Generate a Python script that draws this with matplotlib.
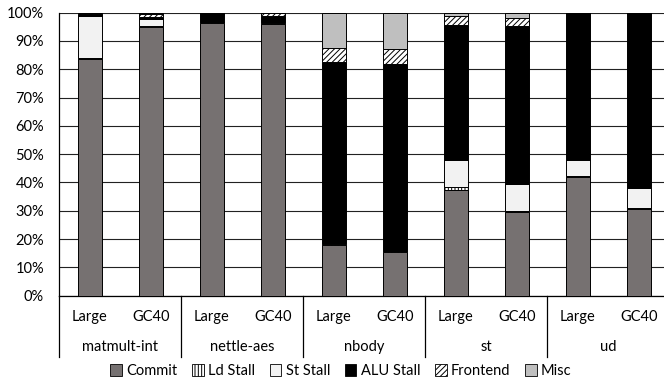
import numpy as np
import matplotlib.pyplot as plt
from matplotlib.patches import Patch
from matplotlib.transforms import blended_transform_factory

plt.rcParams['font.family'] = ['Lato', 'DejaVu Sans']
plt.rcParams['hatch.linewidth'] = 0.7

# --- data (percent of cycles) ---
groups = ['matmult-int', 'nettle-aes', 'nbody', 'st', 'ud']
configs = ['Large', 'GC40']

commit    = [83.8, 95.0, 96.5, 96.0, 17.8, 15.5, 37.3, 29.4, 42.0, 30.6]
ld_stall  = [0.3, 0.3, 0.1, 0.2, 0.5, 0.3, 1.0, 0.5, 0.2, 0.3]
st_stall  = [14.7, 2.3, 0.1, 0.6, 0.2, 0.1, 9.7, 9.6, 5.6, 7.0]
alu_stall = [0.8, 1.0, 3.3, 2.2, 64.2, 66.0, 47.6, 55.8, 52.2, 62.1]
frontend  = [0.2, 0.9, 0.0, 0.8, 4.7, 5.3, 3.2, 2.9, 0.0, 0.0]
misc      = [0.2, 0.5, 0.0, 0.2, 12.6, 12.8, 1.2, 1.8, 0.0, 0.0]

series = [
    ('Commit',    commit,    '#767171', None),
    ('Ld Stall',  ld_stall,  'white',   '|||||'),
    ('St Stall',  st_stall,  '#F2F2F2', None),
    ('ALU Stall', alu_stall, 'black',   None),
    ('Frontend',  frontend,  'white',   '//////'),
    ('Misc',      misc,      '#BFBFBF', None),
]

W, H = 664, 382
fig = plt.figure(figsize=(W / 100, H / 100), dpi=100)
left, right, top, bottom = 59.3, 669.3, 12.7, 295.7
ax = fig.add_axes([left / W, 1 - bottom / H, (right - left) / W, (bottom - top) / H])

n = len(commit)
x = np.arange(n)
base = np.zeros(n)
for name, vals, color, hatch in series:
    vals = np.array(vals)
    ax.bar(x, vals, width=0.4, bottom=base, color=color, hatch=hatch,
           edgecolor='black', linewidth=0.7, zorder=3)
    base += vals

ax.set_xlim(-0.5, n - 0.5)
ax.set_ylim(0, 100)
ax.set_yticks(np.arange(0, 101, 10))
ax.set_yticklabels([f'{v}%' for v in range(0, 101, 10)], fontsize=10.5)
ax.tick_params(axis='y', length=0, pad=11)
ax.set_xticks([])
ax.grid(axis='y', color='#222222', linewidth=0.8, zorder=0)
for s in ['top', 'right']:
    ax.spines[s].set_visible(False)
ax.spines['left'].set_linewidth(0.9)
ax.spines['bottom'].set_linewidth(0.9)

# two-level category axis
tr = blended_transform_factory(ax.transData, ax.transAxes)
for i in range(n):
    ax.text(x[i], -0.075, configs[i % 2], transform=tr, ha='center', va='center',
            fontsize=10.5)
for g, name in enumerate(groups):
    ax.text(2 * g + 0.5, -0.18, name, transform=tr, ha='center', va='center',
            fontsize=10.5)
for g in range(len(groups)):
    ax.plot([2 * g - 0.5] * 2, [0, -0.216], transform=tr, color='black',
            linewidth=0.9, clip_on=False)

handles = [Patch(facecolor=c, edgecolor='black', hatch=h, linewidth=0.6, label=nm)
           for nm, _, c, h in series]
fig.legend(handles=handles, loc='center', bbox_to_anchor=(341 / W, 1 - 371 / H),
           ncol=6, frameon=False, fontsize=10.5, handlelength=0.8, handleheight=0.8,
           handletextpad=0.3, columnspacing=1.0, borderpad=0)

fig.savefig('out.png', dpi=100)
